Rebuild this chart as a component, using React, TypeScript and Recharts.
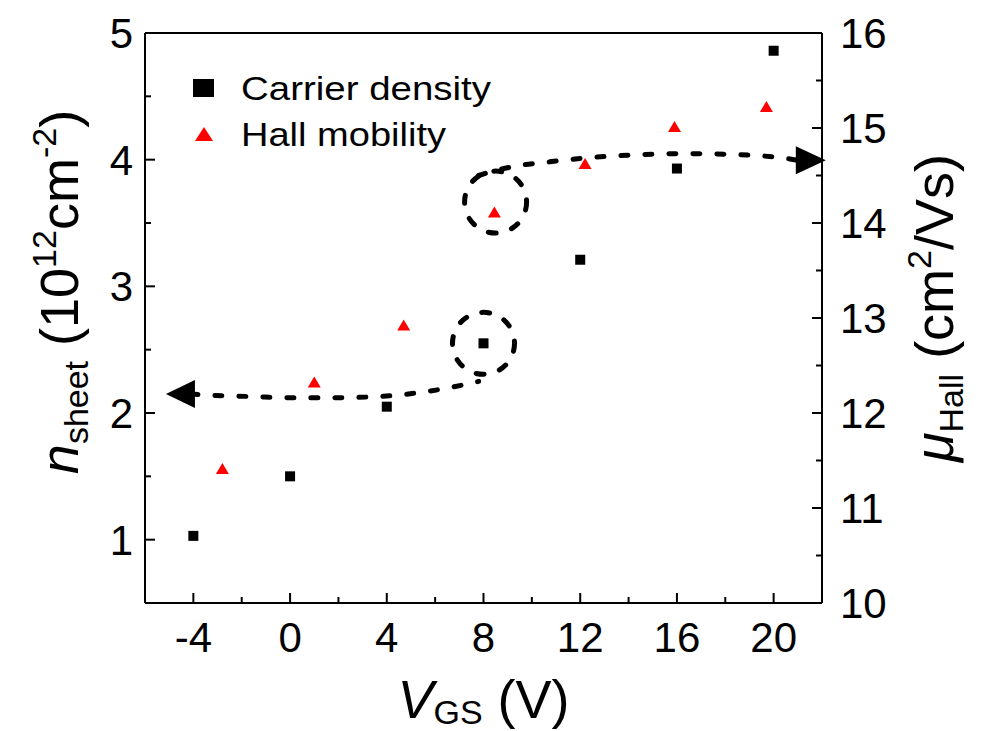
import React from 'react';
import {
  ComposedChart,
  Scatter,
  Line,
  XAxis,
  YAxis,
  ReferenceDot,
  Legend
} from 'recharts';

const FONT = '"Liberation Sans", Arial, Helvetica, sans-serif';

// measured points
const vgsDensity = [-4, 0, 4, 8, 12, 16, 20];
const carrierDensity = [1.03, 1.5, 2.05, 2.55, 3.21, 3.93, 4.86];
const vgsMobility = [-2.8, 1, 4.7, 8.45, 12.2, 15.9, 19.7];
const hallMobility = [11.41, 12.32, 12.92, 14.11, 14.62, 15.01, 15.22];

// hand-drawn dashed guide arrows (left one on n_sheet axis, right one on mobility axis)
const lowerGuideX = [-4.1, -3.3, -1.6, 0, 1.6, 3.7, 5.3, 6.6, 7.8];
const lowerGuideY = [2.15, 2.14, 2.13, 2.12, 2.12, 2.13, 2.16, 2.2, 2.25];
const upperGuideX = [7.8, 8.6, 9.6, 10.6, 12.5, 14.5, 16.5, 18.5, 20.5, 21.0];
const upperGuideY = [14.5, 14.56, 14.61, 14.64, 14.69, 14.72, 14.73, 14.72, 14.68, 14.66];

// dashed circles around the 8 V points
const densityCircle = [8, 2.55];
const mobilityCircle = [8.5, 14.22];

const xTicks = [-4, -2, 0, 2, 4, 6, 8, 10, 12, 14, 16, 18, 20];
const leftTicks = [1, 1.5, 2, 2.5, 3, 3.5, 4, 4.5, 5];
const rightTicks = [10, 10.5, 11, 11.5, 12, 12.5, 13, 13.5, 14, 14.5, 15, 15.5, 16];

const seriesNames = ['Carrier density', 'Hall mobility'];

const toPoints = (xs: number[], ys: number[]) => xs.map((x, i) => ({ x, y: ys[i] }));

const densityData = toPoints(vgsDensity, carrierDensity);
const mobilityData = toPoints(vgsMobility, hallMobility);
const lowerGuide = toPoints(lowerGuideX, lowerGuideY);
const upperGuide = toPoints(upperGuideX, upperGuideY);

const TICK_FS = 42;

const BottomTick = ({ x, y, payload }: any) => {
  const v = payload.value;
  const major = v % 4 === 0;
  return (
    <g>
      <line x1={x} y1={y} x2={x} y2={y - (major ? 10 : 6)} stroke="#000" strokeWidth={2} />
      {major && (
        <text x={x} y={y + 49} textAnchor="middle" fontSize={TICK_FS} fontFamily={FONT} fill="#000">
          {v}
        </text>
      )}
    </g>
  );
};

const TopTick = ({ x, y, payload }: any) => {
  const major = payload.value % 4 === 0;
  return <line x1={x} y1={y} x2={x} y2={y + (major ? 10 : 6)} stroke="#000" strokeWidth={2} />;
};

const LeftTick = ({ x, y, payload }: any) => {
  const v = payload.value;
  const major = Number.isInteger(v);
  return (
    <g>
      <line x1={x} y1={y} x2={x + (major ? 10 : 6)} y2={y} stroke="#000" strokeWidth={2} />
      {major && (
        <text x={x - 12} y={y + 15} textAnchor="end" fontSize={TICK_FS} fontFamily={FONT} fill="#000">
          {v}
        </text>
      )}
    </g>
  );
};

const RightTick = ({ x, y, payload }: any) => {
  const v = payload.value;
  const major = Number.isInteger(v);
  return (
    <g>
      <line x1={x} y1={y} x2={x - (major ? 10 : 6)} y2={y} stroke="#000" strokeWidth={2} />
      {major && (
        <text x={x + 18} y={y + 15} textAnchor="start" fontSize={TICK_FS} fontFamily={FONT} fill="#000">
          {v}
        </text>
      )}
    </g>
  );
};

const TITLE_FS = 54;
const SUB_FS = 34;

const xTitle = (props: any) => {
  const { x, y, width } = props.viewBox;
  return (
    <text x={x + width / 2} y={y + 115} textAnchor="middle" fontSize={TITLE_FS} fontFamily={FONT} fill="#000">
      <tspan fontStyle="italic">V</tspan>
      <tspan fontSize={SUB_FS} dy={6}>GS</tspan>
      <tspan dy={-6}> (V)</tspan>
    </text>
  );
};

const leftTitle = (props: any) => {
  const { x, y, height } = props.viewBox;
  const cx = x + 68;
  const cy = y + height / 2 - 26;
  return (
    <text
      x={cx}
      y={cy}
      transform={`rotate(-90, ${cx}, ${cy})`}
      textAnchor="middle"
      fontSize={TITLE_FS}
      fontFamily={FONT}
      fill="#000"
      style={{ whiteSpace: 'pre' }}
    >
      <tspan fontStyle="italic">n</tspan>
      <tspan fontSize={SUB_FS} dy={10}>sheet</tspan>
      <tspan dy={-10}> (10</tspan>
      <tspan fontSize={SUB_FS} dy={-22}>12</tspan>
      <tspan dy={22}>cm</tspan>
      <tspan fontSize={SUB_FS} dy={-22}>-2</tspan>
      <tspan dy={22}>)</tspan>
    </text>
  );
};

const rightTitle = (props: any) => {
  const { x, y, height } = props.viewBox;
  const cx = x + 131;
  const cy = y + height / 2 - 10;
  return (
    <text
      x={cx}
      y={cy}
      transform={`rotate(-90, ${cx}, ${cy})`}
      textAnchor="middle"
      fontSize={TITLE_FS}
      fontFamily={FONT}
      fill="#000"
      style={{ whiteSpace: 'pre' }}
    >
      <tspan fontStyle="italic">μ</tspan>
      <tspan fontSize={SUB_FS} dy={10}>Hall</tspan>
      <tspan dy={-10}> (cm</tspan>
      <tspan fontSize={SUB_FS} dy={-22}>2</tspan>
      <tspan dy={22}>/Vs)</tspan>
    </text>
  );
};

const SquareShape = ({ cx, cy }: any) => <rect x={cx - 5} y={cy - 5} width={10} height={10} fill="#000" />;

const TriangleShape = ({ cx, cy }: any) => (
  <path d={`M${cx},${cy - 6} L${cx + 6.5},${cy + 5} L${cx - 6.5},${cy + 5} Z`} fill="#ff0000" />
);

const lowerHead = (p: any) =>
  p.index === 0 ? (
    <path key="lower-head" d={`M${p.cx + 4},${p.cy - 14} L${p.cx - 25},${p.cy} L${p.cx + 4},${p.cy + 14} Z`} fill="#000" />
  ) : (
    <g key={`lower-${p.index}`} />
  );

const upperHead = (p: any) =>
  p.index === upperGuideX.length - 1 ? (
    <path key="upper-head" d={`M${p.cx - 2},${p.cy - 14} L${p.cx + 28},${p.cy} L${p.cx - 2},${p.cy + 14} Z`} fill="#000" />
  ) : (
    <g key={`upper-${p.index}`} />
  );

// the legend text in the original is set a little wider than plain Arial
const legendTextWidth = [250, 205];

const LegendBox = ({ payload }: any) => {
  const items = (payload || []).filter((e: any) => seriesNames.includes(e.value));
  return (
    <svg width={330} height={90} style={{ display: 'block', overflow: 'visible' }}>
      {items.map((e: any, i: number) => {
        const cy = 18 + i * 46;
        return (
          <g key={e.value}>
            {i === 0 ? (
              <rect x={8} y={cy - 9} width={21} height={18} fill="#000" />
            ) : (
              <path d={`M19,${cy - 7} L28,${cy + 7} L10,${cy + 7} Z`} fill="#ff0000" />
            )}
            <text
              x={56}
              y={cy + 12}
              fontSize={34}
              fontFamily={FONT}
              fill="#000"
              textLength={legendTextWidth[i]}
              lengthAdjust="spacingAndGlyphs"
            >
              {e.value}
            </text>
          </g>
        );
      })}
    </svg>
  );
};

const dashStyle = {
  stroke: '#000',
  strokeWidth: 5,
  strokeDasharray: '7 17',
  strokeLinecap: 'round' as const
};

export default function App() {
  return (
    <div style={{ position: 'absolute', left: 0, top: 0, background: '#fff' }}>
      <ComposedChart width={989} height={731} margin={{ top: 23, right: 10, bottom: 10, left: 10 }}>
        <XAxis
          dataKey="x"
          type="number"
          domain={[-6, 22]}
          ticks={xTicks}
          interval={0}
          tick={BottomTick}
          tickLine={false}
          tickSize={0}
          tickMargin={0}
          height={118}
          axisLine={{ stroke: '#000', strokeWidth: 2 }}
          label={xTitle}
        />
        <XAxis
          xAxisId="top"
          orientation="top"
          dataKey="x"
          type="number"
          domain={[-6, 22]}
          ticks={xTicks}
          interval={0}
          tick={TopTick}
          tickLine={false}
          tickSize={0}
          tickMargin={0}
          height={10}
          axisLine={{ stroke: '#000', strokeWidth: 2 }}
        />
        <YAxis
          yAxisId="left"
          dataKey="y"
          type="number"
          domain={[0.5, 5]}
          ticks={leftTicks}
          interval={0}
          tick={LeftTick}
          tickLine={false}
          tickSize={0}
          tickMargin={0}
          width={135}
          axisLine={{ stroke: '#000', strokeWidth: 2 }}
          label={leftTitle}
        />
        <YAxis
          yAxisId="right"
          orientation="right"
          dataKey="y"
          type="number"
          domain={[10, 16]}
          ticks={rightTicks}
          interval={0}
          tick={RightTick}
          tickLine={false}
          tickSize={0}
          tickMargin={0}
          width={157}
          axisLine={{ stroke: '#000', strokeWidth: 2 }}
          label={rightTitle}
        />

        <Line
          yAxisId="left"
          data={lowerGuide}
          dataKey="y"
          type="monotone"
          {...dashStyle}
          dot={lowerHead}
          activeDot={false}
          legendType="none"
          isAnimationActive={false}
        />
        <Line
          yAxisId="right"
          data={upperGuide}
          dataKey="y"
          type="monotone"
          {...dashStyle}
          dot={upperHead}
          activeDot={false}
          legendType="none"
          isAnimationActive={false}
        />

        <ReferenceDot
          yAxisId="left"
          x={densityCircle[0]}
          y={densityCircle[1]}
          r={31}
          fill="none"
          stroke="#000"
          strokeWidth={5}
          strokeDasharray="8 16"
          strokeLinecap="round"
          ifOverflow="visible"
        />
        <ReferenceDot
          yAxisId="right"
          x={mobilityCircle[0]}
          y={mobilityCircle[1]}
          r={31}
          fill="none"
          stroke="#000"
          strokeWidth={5}
          strokeDasharray="8 16"
          strokeLinecap="round"
          ifOverflow="visible"
        />

        <Scatter
          name={seriesNames[0]}
          yAxisId="left"
          data={densityData}
          fill="#000"
          shape={SquareShape}
          isAnimationActive={false}
        />
        <Scatter
          name={seriesNames[1]}
          yAxisId="right"
          data={mobilityData}
          fill="#ff0000"
          shape={TriangleShape}
          isAnimationActive={false}
        />

        <Legend
          layout="vertical"
          align="center"
          verticalAlign="middle"
          content={LegendBox}
          wrapperStyle={{ left: 185, top: 70, width: 330, height: 90 }}
        />
      </ComposedChart>
    </div>
  );
}
